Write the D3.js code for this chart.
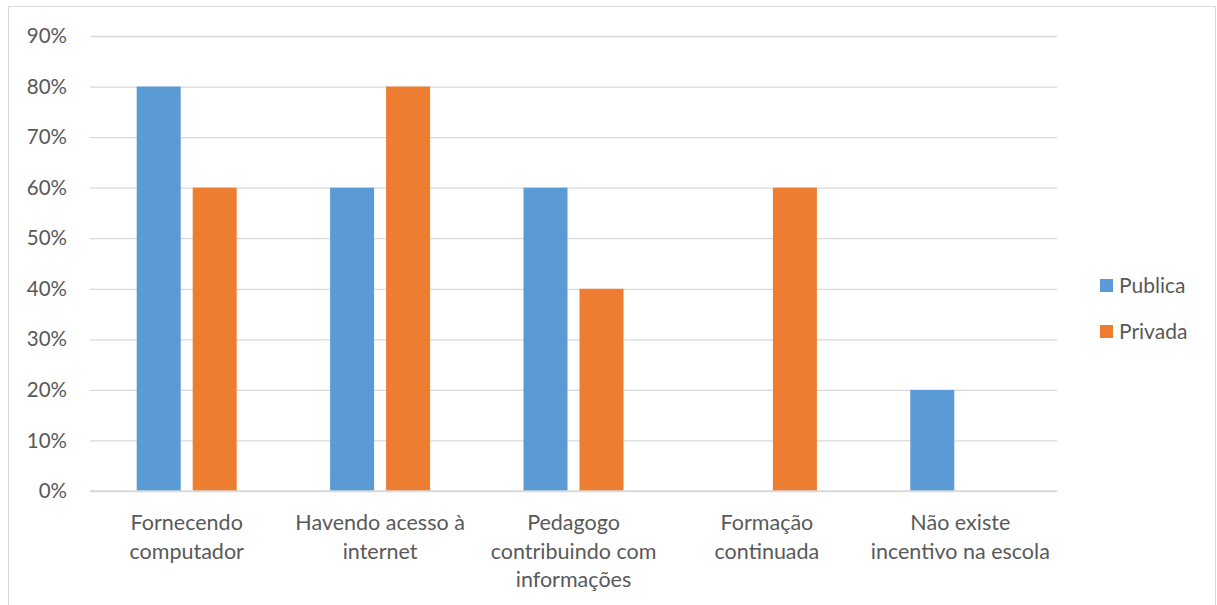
<!DOCTYPE html>
<html>
<head>
<meta charset="utf-8">
<script src="https://cdn.jsdelivr.net/npm/d3@7"></script>
<style>
  html, body { margin: 0; padding: 0; background: #fff; }
  svg { display: block; }
  text { font-family: Lato, "Open Sans", sans-serif; fill: #595959; }
</style>
</head>
<body>
<svg id="chart" width="1217" height="605"></svg>
<script>
// Categories (each label split into its display lines)
const categories = [
  ["Fornecendo", "computador"],
  ["Havendo acesso à", "internet"],
  ["Pedagogo", "contribuindo com", "informações"],
  ["Formação", "continuada"],
  ["Não existe", "incentivo na escola"]
];
const seriesNames = ["Publica", "Privada"];
const publica = [0.80, 0.60, 0.60, 0.00, 0.20];
const privada = [0.60, 0.80, 0.40, 0.60, 0.00];
const yTicks = [0, 0.1, 0.2, 0.3, 0.4, 0.5, 0.6, 0.7, 0.8, 0.9];
const colors = ["#5b9bd5", "#ed7d31"];

const svg = d3.select("#chart");
const W = 1217, H = 605;

// chart frame
svg.append("rect")
  .attr("x", 8.5).attr("y", 6.5)
  .attr("width", W - 10).attr("height", H + 10)
  .attr("fill", "#fff").attr("stroke", "#d9d9d9").attr("stroke-width", 1);

const plot = { left: 90, right: 1057, top: 36, bottom: 491 };

const x0 = d3.scaleBand()
  .domain(d3.range(categories.length))
  .range([plot.left, plot.right])
  .paddingInner(0).paddingOuter(0);

const y = d3.scaleLinear().domain([0, 0.9]).range([plot.bottom, plot.top]);

const barW = 44, barGap = 12;
const x1 = d3.scaleOrdinal()
  .domain([0, 1])
  .range([-(barW + barGap / 2), barGap / 2]);

// horizontal gridlines
const yAxis = d3.axisLeft(y).tickValues(yTicks)
  .tickSize(-(plot.right - plot.left))
  .tickPadding(23)
  .tickFormat(d3.format(".0%"));

const gy = svg.append("g")
  .attr("transform", `translate(${plot.left},0)`)
  .call(yAxis);
gy.select(".domain").remove();
gy.selectAll(".tick line").attr("stroke", "#d9d9d9").attr("stroke-width", 1.3);
gy.selectAll(".tick text")
  .style("font-size", "20.5px").attr("fill", "#595959")
  .style("font-family", "Lato, sans-serif");

// bars
const series = [publica, privada];
series.forEach((vals, s) => {
  svg.append("g").selectAll("rect")
    .data(vals.map((v, i) => ({ v, i })))
    .join("rect")
    .attr("x", d => x0(d.i) + x0.bandwidth() / 2 + x1(s))
    .attr("y", d => y(d.v))
    .attr("width", barW)
    .attr("height", d => y(0) - y(d.v))
    .attr("fill", colors[s]);
});

// baseline
svg.append("line")
  .attr("x1", plot.left).attr("x2", plot.right)
  .attr("y1", y(0)).attr("y2", y(0))
  .attr("stroke", "#d9d9d9").attr("stroke-width", 1.3);

// category labels
const xAxis = d3.axisBottom(x0).tickSize(0).tickFormat("");
const gx = svg.append("g").attr("transform", `translate(0,${plot.bottom})`).call(xAxis);
gx.select(".domain").remove();
gx.selectAll(".tick").each(function(i) {
  const t = d3.select(this).append("text")
    .attr("text-anchor", "middle")
    .style("font-size", "21.5px");
  categories[i].forEach((line, k) => {
    t.append("tspan").attr("x", 0).attr("y", 39 + k * 28.5).text(line);
  });
});

// legend
const legend = svg.append("g").attr("transform", "translate(1100,279)");
seriesNames.forEach((name, s) => {
  const g = legend.append("g").attr("transform", `translate(0,${s * 46})`);
  g.append("rect").attr("width", 13).attr("height", 13).attr("fill", colors[s]);
  g.append("text").attr("x", 19).attr("y", 14).style("font-size", "21px").text(name);
});
</script>
</body>
</html>
